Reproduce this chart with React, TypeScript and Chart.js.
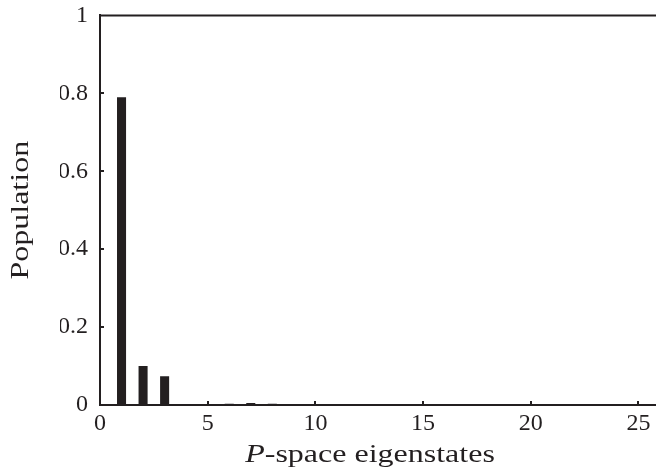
import React, { useEffect, useRef } from "react";
import { Chart, registerables } from "chart.js";

Chart.register(...registerables);

const categories = [1, 2, 3, 4, 5, 6, 7, 8];
const populations = [0.79, 0.1, 0.074, 0.002, 0, 0.003, 0.005, 0.0035];
const xTickValues = [0, 5, 10, 15, 20, 25];
const yTickValues = [0, 0.2, 0.4, 0.6, 0.8, 1];
const xTitleItalic = "P";
const xTitleRest = "-space eigenstates";
const yTitle = "Population";

const INK = "#231f20";
const SERIF = "'Liberation Serif', 'Times New Roman', serif";
const SHIFT = 11; // canvas is moved up by this many pixels

const framePlugin = {
  id: "frame",
  afterDraw(chart: any) {
    const { ctx, chartArea } = chart;
    const xs = chart.scales.x;
    const ys = chart.scales.y;
    ctx.save();
    ctx.strokeStyle = INK;
    ctx.lineWidth = 2;
    // top border
    ctx.beginPath();
    ctx.moveTo(chartArea.left - 1, chartArea.top);
    ctx.lineTo(chartArea.right, chartArea.top);
    ctx.stroke();
    // inward ticks
    ctx.beginPath();
    xTickValues.forEach((v) => {
      if (v === 0) return;
      const px = Math.round(xs.getPixelForValue(v));
      ctx.moveTo(px, chartArea.bottom);
      ctx.lineTo(px, chartArea.bottom - 4);
    });
    yTickValues.forEach((v) => {
      if (v === 0 || v === 1) return;
      const py = Math.round(ys.getPixelForValue(v));
      ctx.moveTo(chartArea.left, py);
      ctx.lineTo(chartArea.left + 4, py);
    });
    ctx.stroke();

    // titles
    ctx.fillStyle = INK;
    const fs = 25;
    const stretch = 1.28;
    // x title
    ctx.save();
    ctx.translate(370, 462 + SHIFT);
    ctx.scale(stretch, 1);
    ctx.font = `italic ${fs}px ${SERIF}`;
    const wI = ctx.measureText(xTitleItalic).width;
    ctx.font = `${fs}px ${SERIF}`;
    const wR = ctx.measureText(xTitleRest).width;
    const start = -(wI + wR) / 2;
    ctx.textBaseline = "alphabetic";
    ctx.textAlign = "left";
    ctx.font = `italic ${fs}px ${SERIF}`;
    ctx.fillText(xTitleItalic, start, 0);
    ctx.font = `${fs}px ${SERIF}`;
    ctx.fillText(xTitleRest, start + wI, 0);
    ctx.restore();
    // y title
    ctx.save();
    ctx.translate(28, (chartArea.top + chartArea.bottom) / 2);
    ctx.rotate(-Math.PI / 2);
    ctx.scale(stretch, 1);
    ctx.font = `${fs}px ${SERIF}`;
    ctx.textAlign = "center";
    ctx.textBaseline = "alphabetic";
    ctx.fillText(yTitle, 0, 0);
    ctx.restore();
    ctx.restore();
  },
};

export default function App() {
  const ref = useRef<HTMLCanvasElement>(null);
  useEffect(() => {
    if (!ref.current) return;
    const chart = new Chart(ref.current, {
      type: "bar",
      data: {
        datasets: [
          {
            data: categories.map((c, i) => ({ x: c, y: populations[i] })),
            backgroundColor: INK,
            borderWidth: 0,
            barPercentage: 0.42,
            categoryPercentage: 1,
          },
        ],
      },
      options: {
        responsive: false,
        animation: false,
        events: [],
        layout: { padding: { top: 3, left: 60, right: 20, bottom: 0 } },
        plugins: { legend: { display: false }, tooltip: { enabled: false }, title: { display: false } },
        scales: {
          x: {
            type: "linear",
            min: 0,
            max: 26,
            offset: false,
            afterFit: (s: any) => {
              s.height = 68;
            },
            afterBuildTicks: (s: any) => {
              s.ticks = xTickValues.map((v) => ({ value: v }));
            },
            ticks: {
              font: { family: SERIF, size: 24 },
              color: INK,
              padding: 4,
              maxRotation: 0,
              autoSkip: false,
              callback: (v: any) => String(v),
            },
            grid: { display: false, drawTicks: false, offset: false },
            border: { display: true, color: INK, width: 2 },
          },
          y: {
            min: 0,
            max: 1,
            afterFit: (s: any) => {
              s.width = 40;
            },
            afterBuildTicks: (s: any) => {
              s.ticks = yTickValues.map((v) => ({ value: v }));
            },
            ticks: {
              font: { family: SERIF, size: 24 },
              color: INK,
              padding: 12,
              autoSkip: false,
              callback: (v: any) => String(v),
            },
            grid: { display: false, drawTicks: false },
            border: { display: true, color: INK, width: 2 },
          },
        },
      },
      plugins: [framePlugin],
    });
    return () => chart.destroy();
  }, []);
  return (
    <div
      style={{
        position: "fixed",
        left: 0,
        top: 0,
        width: 656,
        height: 473,
        overflow: "hidden",
        background: "#fff",
      }}
    >
      <canvas
        ref={ref}
        width={680}
        height={473 + SHIFT}
        style={{ display: "block", width: 680, height: 473 + SHIFT, marginTop: -SHIFT }}
      />
    </div>
  );
}
